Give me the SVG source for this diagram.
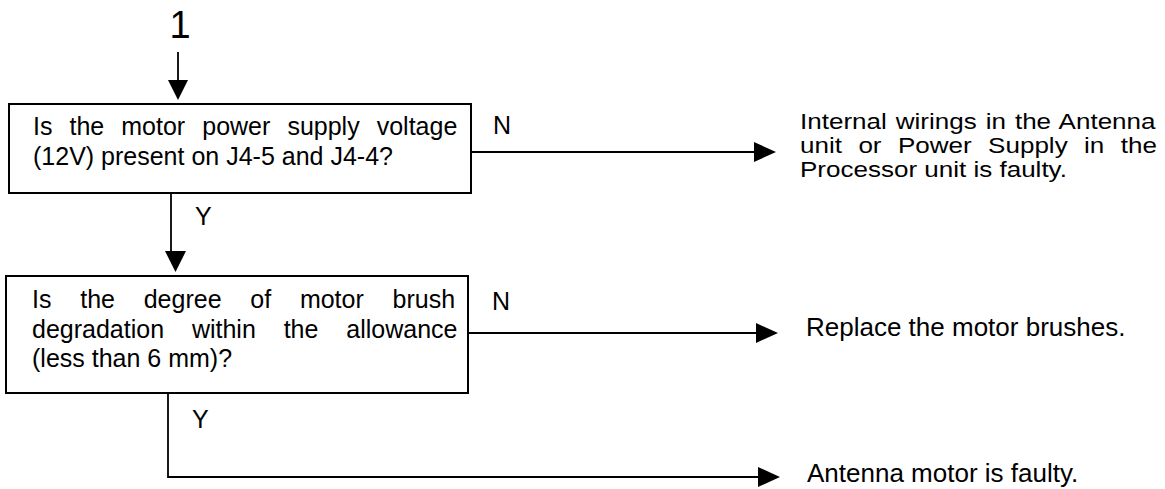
<svg xmlns="http://www.w3.org/2000/svg" width="1165" height="489" viewBox="0 0 1165 489">
<style>
.box{fill:#fff;stroke:#000;stroke-width:2}
.ln{fill:none;stroke:#000;stroke-width:1.8}
.hd{fill:#000;stroke:none}
text{font-family:"Liberation Sans",Arial,sans-serif;fill:#000}
.t{font-size:25px}
.r{font-size:26px}
.rs{font-size:22px}
.big{font-size:38px}
</style>
<rect width="1165" height="489" fill="#fff"/>
<g id="start">
<text class="big" x="180" y="38" text-anchor="middle">1</text>
</g>
<g id="connectors">
<line class="ln" x1="178" y1="52" x2="178" y2="82"/>
<polygon class="hd" points="168,80 188,80 178,100"/>
<line class="ln" x1="471" y1="152" x2="756" y2="152"/>
<polygon class="hd" points="754,142 754,162 776,152"/>
<text class="t" x="493" y="134">N</text>
<line class="ln" x1="171" y1="193" x2="171" y2="254"/>
<polygon class="hd" points="165,251 186,251 175.5,272"/>
<text class="t" x="195" y="225">Y</text>
<line class="ln" x1="468" y1="333" x2="758" y2="333"/>
<polygon class="hd" points="756,323 756,343 778,333"/>
<text class="t" x="492" y="310">N</text>
<polyline class="ln" points="168,393 168,477 760,477"/>
<polygon class="hd" points="758,467 758,487 780,477"/>
<text class="t" x="192" y="428">Y</text>
</g>
<g id="q1">
<rect class="box" x="9" y="104" width="462" height="89"/>
<text class="t" x="33" y="135" word-spacing="10.1">Is the motor power supply voltage</text>
<text class="t" x="33" y="165">(12V) present on J4-5 and J4-4?</text>
</g>
<g id="q2">
<rect class="box" x="6" y="276" width="462" height="117"/>
<text class="t" x="32" y="308" word-spacing="21.8">Is the degree of motor brush</text>
<text class="t" x="32" y="338" word-spacing="20.9">degradation within the allowance</text>
<text class="t" x="32" y="367">(less than 6 mm)?</text>
</g>
<g id="r1" transform="translate(800,0) scale(1.183,1)">
<text class="rs" x="0" y="129" word-spacing="1.5">Internal wirings in the Antenna</text>
<text class="rs" x="0" y="153" word-spacing="7.8">unit or Power Supply in the</text>
<text class="rs" x="0" y="177">Processor unit is faulty.</text>
</g>
<g id="r2">
<text class="r" x="806" y="336">Replace the motor brushes.</text>
</g>
<g id="r3">
<text class="r" x="807" y="482">Antenna motor is faulty.</text>
</g>
</svg>
